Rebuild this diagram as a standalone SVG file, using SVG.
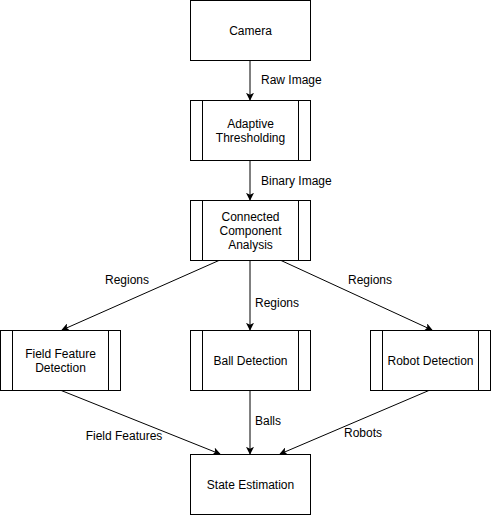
<svg xmlns="http://www.w3.org/2000/svg" width="491" height="515" viewBox="0 0 491 515">
<style>
.box{fill:#fff;stroke:#000;stroke-width:1}
.ln{stroke:#000;stroke-width:1;fill:none}
.edge{stroke:#000;stroke-width:1;fill:none;marker-end:url(#ah)}
.t{font-family:"Liberation Sans",Arial,sans-serif;font-size:12px;fill:#000}
.c{text-anchor:middle}
</style>
<defs>
<marker id="ah" viewBox="0 0 10 10" refX="9" refY="5" markerWidth="8" markerHeight="8" markerUnits="userSpaceOnUse" orient="auto">
<path d="M0,0 L10,5 L0,10 L2.5,5 Z" fill="#000"/>
</marker>
</defs>
<rect width="491" height="515" fill="#fff"/>
<g id="connectors">
<line class="edge" x1="250" y1="60" x2="250" y2="100"/>
<line class="edge" x1="250" y1="160" x2="250" y2="200"/>
<line class="edge" x1="220" y1="260" x2="62" y2="330"/>
<line class="edge" x1="250" y1="260" x2="250" y2="330"/>
<line class="edge" x1="280" y1="260" x2="432" y2="330"/>
<line class="edge" x1="60" y1="390" x2="220" y2="454"/>
<line class="edge" x1="250" y1="390" x2="250" y2="454"/>
<line class="edge" x1="430" y1="390" x2="280" y2="454"/>
<text class="t" x="261" y="84">Raw Image</text>
<text class="t" x="261" y="185">Binary Image</text>
<text class="t c" x="127" y="284">Regions</text>
<text class="t c" x="277" y="307">Regions</text>
<text class="t c" x="370" y="284">Regions</text>
<text class="t c" x="124" y="440">Field Features</text>
<text class="t c" x="268" y="425">Balls</text>
<text class="t c" x="363" y="437">Robots</text>
</g>
<g id="camera">
<rect class="box" x="190.5" y="0.5" width="120" height="60"/>
<text class="t c" x="250.5" y="35">Camera</text>
</g>
<g id="adaptive">
<rect class="box" x="190.5" y="100.5" width="120" height="60"/>
<line class="ln" x1="202.5" y1="100.5" x2="202.5" y2="160.5"/>
<line class="ln" x1="298.5" y1="100.5" x2="298.5" y2="160.5"/>
<text class="t c" x="250.5" y="128">Adaptive</text>
<text class="t c" x="250.5" y="142">Thresholding</text>
</g>
<g id="cca">
<rect class="box" x="190.5" y="200.5" width="120" height="60"/>
<line class="ln" x1="202.5" y1="200.5" x2="202.5" y2="260.5"/>
<line class="ln" x1="298.5" y1="200.5" x2="298.5" y2="260.5"/>
<text class="t c" x="250.5" y="221">Connected</text>
<text class="t c" x="250.5" y="235">Component</text>
<text class="t c" x="250.5" y="249">Analysis</text>
</g>
<g id="field">
<rect class="box" x="0.5" y="330.5" width="120" height="60"/>
<line class="ln" x1="12.5" y1="330.5" x2="12.5" y2="390.5"/>
<line class="ln" x1="108.5" y1="330.5" x2="108.5" y2="390.5"/>
<text class="t c" x="60.5" y="358">Field Feature</text>
<text class="t c" x="60.5" y="372">Detection</text>
</g>
<g id="ball">
<rect class="box" x="190.5" y="330.5" width="120" height="60"/>
<line class="ln" x1="202.5" y1="330.5" x2="202.5" y2="390.5"/>
<line class="ln" x1="298.5" y1="330.5" x2="298.5" y2="390.5"/>
<text class="t c" x="250.5" y="365">Ball Detection</text>
</g>
<g id="robot">
<rect class="box" x="370.5" y="330.5" width="120" height="60"/>
<line class="ln" x1="382.5" y1="330.5" x2="382.5" y2="390.5"/>
<line class="ln" x1="478.5" y1="330.5" x2="478.5" y2="390.5"/>
<text class="t c" x="430.5" y="365">Robot Detection</text>
</g>
<g id="state">
<rect class="box" x="190.5" y="454.5" width="120" height="60"/>
<text class="t c" x="250.5" y="489">State Estimation</text>
</g>
</svg>
